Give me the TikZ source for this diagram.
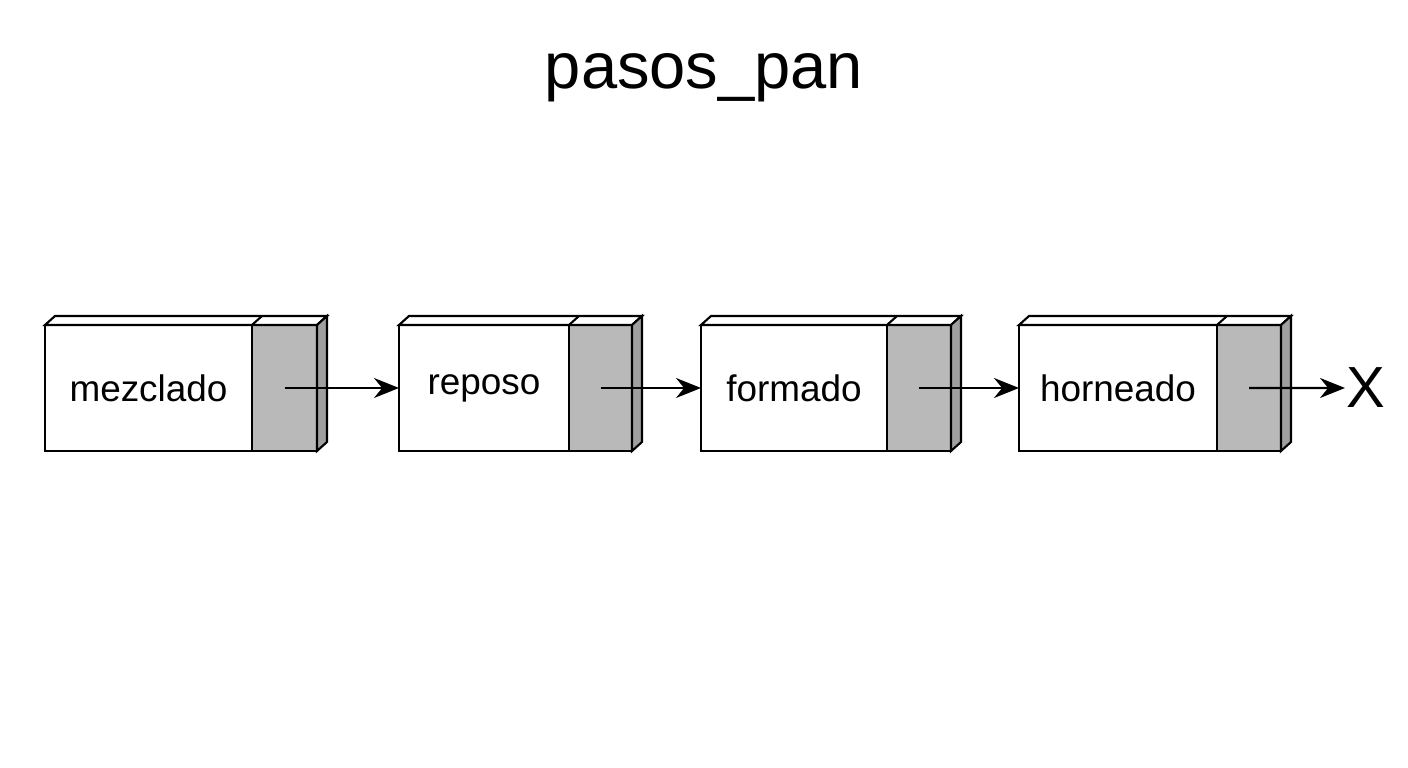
\documentclass[tikz,border=0pt]{standalone}
\usepackage{fontspec}
\setmainfont{Liberation Sans}
\usetikzlibrary{arrows.meta}

\begin{document}
\begin{tikzpicture}[line width=1.2pt]
				\useasboundingbox (0,0) rectangle (28.16,15.36);
				\node (title) at (14.08,13.8) {\fontsize{37}{40}\selectfont pasos\_pan};
				\begin{scope}[every node/.style={rectangle,draw,inner sep=0pt,outer sep=0pt,minimum height=2.52cm,font=\fontsize{21}{24}\selectfont}]
					\node[anchor=north west,minimum width=4.14cm] (mezclado) at (0.9,8.86) {mezclado};
					\node[anchor=west,minimum width=1.3cm,fill=gray!55] (p_mezclado) at (mezclado.east) {};

					\node[anchor=north west,minimum width=3.4cm] (reposo) at (7.98,8.86) {reposo};
					\node[anchor=west,minimum width=1.26cm,fill=gray!55] (p_reposo) at (reposo.east) {};

					\node[anchor=north west,minimum width=3.72cm] (formado) at (14.02,8.86) {formado};
					\node[anchor=west,minimum width=1.28cm,fill=gray!55] (p_formado) at (formado.east) {};

					\node[anchor=north west,minimum width=3.96cm] (horneado) at (20.38,8.86) {horneado};
					\node[anchor=west,minimum width=1.28cm,fill=gray!55] (p_horneado) at (horneado.east) {};
				\end{scope}
				\node[anchor=west,inner sep=0pt] (nil) at (26.9,7.6) {\fontsize{33}{36}\selectfont X};
				% caras superiores y laterales
				\foreach \n in {mezclado,reposo,formado,horneado}{
					\draw[fill=white] (\n.north west) -- ++(0.2,0.18) -- ([shift={(0.2,0.18)}]p_\n.north east) -- (p_\n.north east) -- cycle;
					\draw (p_\n.north west) -- ++(0.2,0.18);
					\draw[fill=gray!75] (p_\n.north east) -- ++(0.2,0.18) -- ([shift={(0.2,0.18)}]p_\n.south east) -- (p_\n.south east) -- cycle;
				}
				\begin{scope}[-{Stealth[length=5mm,width=4mm]}]
					\draw (p_mezclado.center) -- (reposo.west);
					\draw (p_reposo.center) -- (formado.west);
					\draw (p_formado.center) -- (horneado.west);
					\draw (p_horneado.center) -- (nil.west);
				\end{scope}
			\end{tikzpicture}
\end{document}
